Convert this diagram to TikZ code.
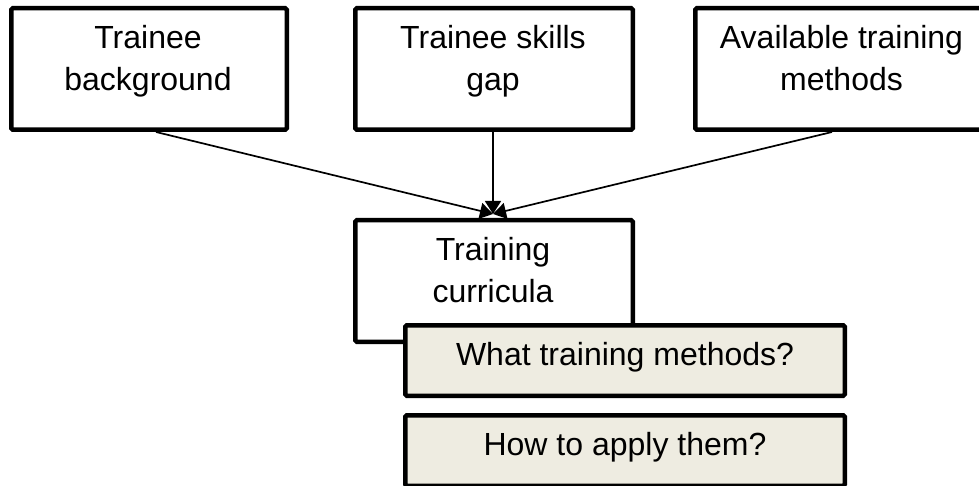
\documentclass[tikz,border=0pt]{standalone}
\usepackage{fontspec}
\setmainfont{Liberation Sans}
\usetikzlibrary{arrows.meta,calc}
\definecolor{boxfill}{HTML}{EEECE1}
\begin{document}
\begin{tikzpicture}[x=1pt,y=-1pt,
  box/.style={draw=black, fill=white, line width=4.5pt, rounded corners=1.5pt, inner sep=0pt},
  qbox/.style={box, fill=boxfill},
  lbl/.style={font=\fontsize{32}{42}\selectfont, align=center, anchor=north, inner sep=0pt},
  conn/.style={line width=1.7pt, -{Triangle[length=13pt,width=16pt]}}]
\useasboundingbox (0,0) rectangle (979,486);

% top boxes
\node[box, minimum width=275.5pt, minimum height=121.5pt] (b1) at (149,69) {};
\node[lbl] (t1) at ($(b1.north)+(-1,19)$) {Trainee\\background};
\node[box, minimum width=277.5pt, minimum height=121.5pt] (b2) at (494,69) {};
\node[lbl] (t2) at ($(b2.north)+(-1,19)$) {Trainee skills\\gap};
\node[box, minimum width=292.5pt, minimum height=121.5pt] (b3) at (841.5,69) {};
\node[lbl] (t3) at ($(b3.north)+(0,19)$) {Available training\\methods};

% middle box
\node[box, minimum width=277.5pt, minimum height=121.5pt] (cur) at (494,281) {};
\node[lbl] (tc) at ($(cur.north)+(-1,19)$) {Training\\curricula};

% question boxes
\node[qbox, minimum width=439.5pt, minimum height=70.5pt] (q1) at (625,360.5) {};
\node[lbl] (tq1) at ($(q1.north)+(0,19)$) {What training methods?};
\node[qbox, minimum width=439.5pt, minimum height=70.5pt] (q2) at (625,450.5) {};
\node[lbl] (tq2) at ($(q2.north)+(0,19)$) {How to apply them?};

% connectors
\coordinate (tip) at ($(cur.north)+(-1,-4)$);
\draw[conn] ($(b1.south)+(7,0)$) -- (tip);
\draw[conn] ($(b2.south)+(-1,0)$) -- (tip);
\draw[conn] ($(b3.south)+(-9.5,0)$) -- (tip);
\end{tikzpicture}
\end{document}
